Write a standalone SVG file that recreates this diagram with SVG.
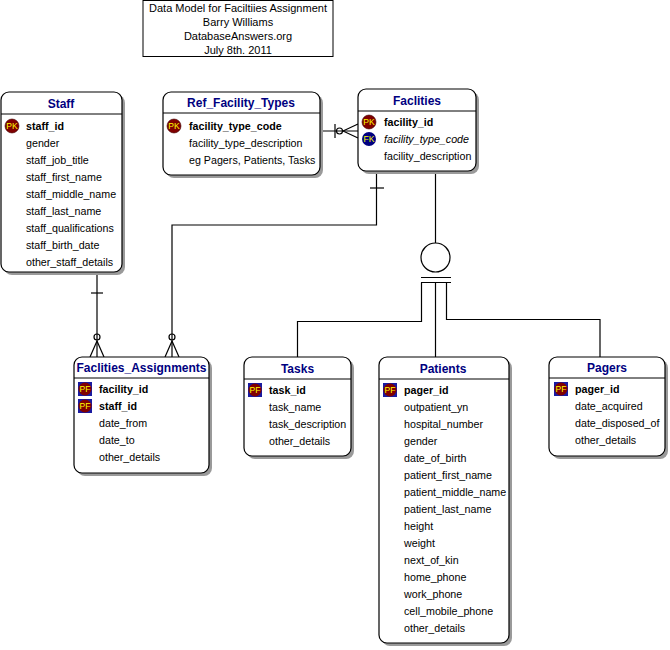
<svg xmlns="http://www.w3.org/2000/svg" width="670" height="650" viewBox="0 0 670 650">
<style>
.box{fill:#fff;stroke:#000;stroke-width:1.2}
.sh{fill:#9a9a9a}
.div{stroke:#000;stroke-width:1}
.hd{font-family:"Liberation Sans",Arial,sans-serif;font-size:12px;font-weight:bold;fill:#000080;text-anchor:middle}
.t{font-family:"Liberation Sans",Arial,sans-serif;font-size:10.7px;fill:#000}
.k{font-weight:bold}
.i{font-style:italic}
.ttl{font-family:"Liberation Sans",Arial,sans-serif;font-size:11px;fill:#000;text-anchor:middle}
.ln{stroke:#000;stroke-width:1.2;fill:none}
.ic{font-family:"Liberation Sans",Arial,sans-serif;font-size:8.5px;fill:#ffff00;text-anchor:middle}
</style>
<defs>
<g id="pk"><circle r="7" fill="#800000" stroke="#400000" stroke-width="0.6"/><text class="ic" y="3">PK</text></g>
<g id="fk"><circle r="7" fill="#000080"/><text class="ic" y="3">FK</text></g>
<g id="pf"><rect x="-7" y="-7" width="14" height="14" fill="#1a1aa0"/><circle r="6.5" fill="#800000"/><text class="ic" y="3">PF</text></g>
</defs>
<rect width="670" height="650" fill="#fff"/>

<g id="title">
<rect x="143" y="0.5" width="190" height="56" fill="#fff" stroke="#000" stroke-width="1"/>
<text class="ttl" x="238" y="12">Data Model for Faciltiies Assignment</text>
<text class="ttl" x="238" y="26">Barry Williams</text>
<text class="ttl" x="238" y="40">DatabaseAnswers.org</text>
<text class="ttl" x="238" y="54">July 8th. 2011</text>
</g>

<g id="connectors">
<path class="ln" d="M320 131 H358"/>
<path class="ln" d="M335 124 V138"/>
<circle cx="339.5" cy="131" r="3" class="ln" fill="#fff"/>
<path class="ln" d="M343 131 L358 124 M343 131 L358 138"/>
<path class="ln" d="M97 272 V357"/>
<path class="ln" d="M91 293 H103"/>
<circle cx="97" cy="337" r="3" class="ln" fill="#fff"/>
<path class="ln" d="M97 341 L90 357 M97 341 L104 357"/>
<path class="ln" d="M376.5 172 V225 H172 V357"/>
<path class="ln" d="M370 188 H384"/>
<circle cx="172" cy="337" r="3" class="ln" fill="#fff"/>
<path class="ln" d="M172 341 L165 357 M172 341 L179 357"/>
<path class="ln" d="M435.5 172 V243"/>
<circle cx="435.5" cy="257.5" r="14.5" class="ln"/>
<path class="ln" d="M421 277.5 H451 M421 282.5 H451"/>
<path class="ln" d="M421.5 282.5 V321.5 H297.5 V357"/>
<path class="ln" d="M435.5 282.5 V357"/>
<path class="ln" d="M446.5 282.5 V319.5 H600 V357"/>
</g>

<g id="staff">
<rect class="sh" x="4" y="95" width="121" height="180" rx="8"/>
<rect class="box" x="1" y="92" width="121" height="180" rx="8"/>
<line class="div" x1="1" y1="114" x2="122" y2="114"/>
<text class="hd" x="61" y="108">Staff</text>
<use href="#pk" x="12" y="126"/>
<text class="t k" x="26" y="130">staff_id</text>
<text class="t" x="26" y="147">gender</text>
<text class="t" x="26" y="164">staff_job_title</text>
<text class="t" x="26" y="181">staff_first_name</text>
<text class="t" x="26" y="198">staff_middle_name</text>
<text class="t" x="26" y="215">staff_last_name</text>
<text class="t" x="26" y="232">staff_qualifications</text>
<text class="t" x="26" y="249">staff_birth_date</text>
<text class="t" x="26" y="266">other_staff_details</text>
</g>

<g id="ref_facility_types">
<rect class="sh" x="166" y="95" width="157" height="83" rx="8"/>
<rect class="box" x="163" y="92" width="157" height="83" rx="8"/>
<line class="div" x1="163" y1="113" x2="320" y2="113"/>
<text class="hd" x="241" y="107">Ref_Facility_Types</text>
<use href="#pk" x="174" y="126"/>
<text class="t k" x="189" y="130">facility_type_code</text>
<text class="t" x="189" y="147">facility_type_description</text>
<text class="t" x="189" y="164">eg Pagers, Patients, Tasks</text>
</g>

<g id="facilities">
<rect class="sh" x="361" y="92" width="118" height="82" rx="8"/>
<rect class="box" x="358" y="89" width="118" height="82" rx="8"/>
<line class="div" x1="358" y1="111" x2="476" y2="111"/>
<text class="hd" x="417" y="105">Faclities</text>
<use href="#pk" x="369" y="122"/>
<text class="t k" x="384" y="126">facility_id</text>
<use href="#fk" x="369" y="139"/>
<text class="t i" x="384" y="143">facility_type_code</text>
<text class="t" x="384" y="160">facility_description</text>
</g>

<g id="facilities_assignments">
<rect class="sh" x="77" y="360" width="135" height="116" rx="8"/>
<rect class="box" x="74" y="357" width="135" height="116" rx="8"/>
<line class="div" x1="74" y1="378" x2="209" y2="378"/>
<text class="hd" x="141.5" y="372">Faclities_Assignments</text>
<use href="#pf" x="85" y="389"/>
<text class="t k" x="99" y="393">facility_id</text>
<use href="#pf" x="85" y="406"/>
<text class="t k" x="99" y="410">staff_id</text>
<text class="t" x="99" y="427">date_from</text>
<text class="t" x="99" y="444">date_to</text>
<text class="t" x="99" y="461">other_details</text>
</g>

<g id="tasks">
<rect class="sh" x="247" y="360" width="107" height="99" rx="8"/>
<rect class="box" x="244" y="357" width="107" height="99" rx="8"/>
<line class="div" x1="244" y1="379" x2="351" y2="379"/>
<text class="hd" x="297.5" y="373">Tasks</text>
<use href="#pf" x="255" y="390"/>
<text class="t k" x="269" y="394">task_id</text>
<text class="t" x="269" y="411">task_name</text>
<text class="t" x="269" y="428">task_description</text>
<text class="t" x="269" y="445">other_details</text>
</g>

<g id="patients">
<rect class="sh" x="382" y="360" width="130" height="286" rx="8"/>
<rect class="box" x="379" y="357" width="130" height="286" rx="8"/>
<line class="div" x1="379" y1="379" x2="509" y2="379"/>
<text class="hd" x="443" y="373">Patients</text>
<use href="#pf" x="390" y="390"/>
<text class="t k" x="404" y="394">pager_id</text>
<text class="t" x="404" y="411">outpatient_yn</text>
<text class="t" x="404" y="428">hospital_number</text>
<text class="t" x="404" y="445">gender</text>
<text class="t" x="404" y="462">date_of_birth</text>
<text class="t" x="404" y="479">patient_first_name</text>
<text class="t" x="404" y="496">patient_middle_name</text>
<text class="t" x="404" y="513">patient_last_name</text>
<text class="t" x="404" y="530">height</text>
<text class="t" x="404" y="547">weight</text>
<text class="t" x="404" y="564">next_of_kin</text>
<text class="t" x="404" y="581">home_phone</text>
<text class="t" x="404" y="598">work_phone</text>
<text class="t" x="404" y="615">cell_mobile_phone</text>
<text class="t" x="404" y="632">other_details</text>
</g>

<g id="pagers">
<rect class="sh" x="552" y="360" width="116" height="99" rx="8"/>
<rect class="box" x="549" y="357" width="116" height="99" rx="8"/>
<line class="div" x1="549" y1="378" x2="665" y2="378"/>
<text class="hd" x="607" y="372">Pagers</text>
<use href="#pf" x="561" y="389"/>
<text class="t k" x="575" y="393">pager_id</text>
<text class="t" x="575" y="410">date_acquired</text>
<text class="t" x="575" y="427">date_disposed_of</text>
<text class="t" x="575" y="444">other_details</text>
</g>
</svg>
